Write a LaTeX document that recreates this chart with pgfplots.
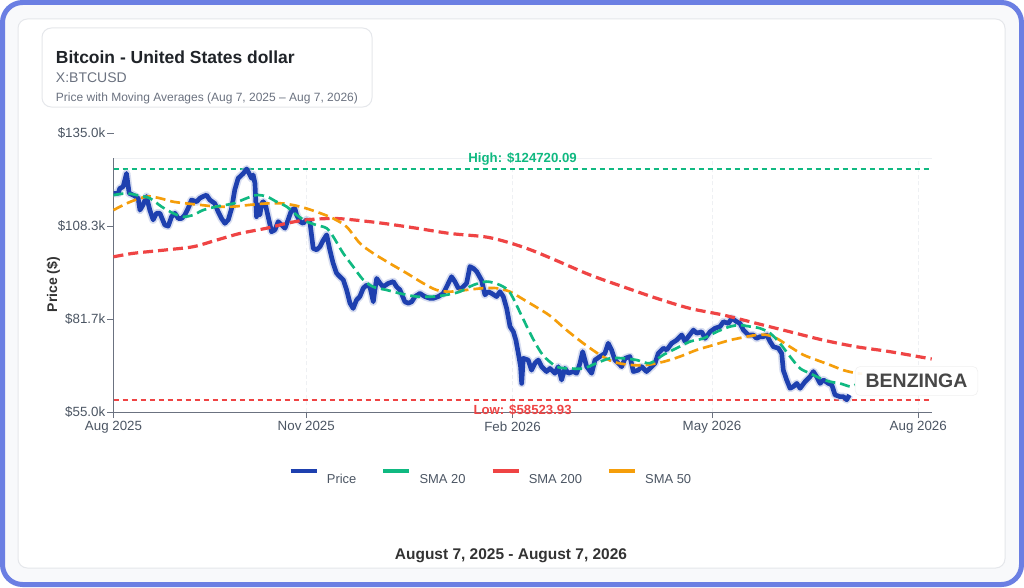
\documentclass[border=0pt]{standalone}
\usepackage{pgfplots}
\pgfplotsset{compat=1.18}
\usepackage{pgfplotstable}
\usepackage{fontspec}
\setmainfont{Liberation Sans}
\definecolor{priceblue}{HTML}{1E40AF}
\definecolor{smagreen}{HTML}{10B981}
\definecolor{smared}{HTML}{EF4444}
\definecolor{smaorange}{HTML}{F59E0B}
\definecolor{frameblue}{HTML}{6B7FE3}
\definecolor{bgsoft}{HTML}{F8F9FB}
\definecolor{cardgray}{HTML}{E5E7EB}
\definecolor{titlecol}{HTML}{1F2328}
\definecolor{subcol}{HTML}{6B7280}
\definecolor{tickcol}{HTML}{4B5563}
\definecolor{axisgray}{HTML}{6B7280}
\definecolor{gridcol}{HTML}{EEF0F3}
\definecolor{darktext}{HTML}{333333}

\pgfplotstableread{
x y
6 117.7
8.1 117.7
8.8 119.1
10.3 119.6
11.8 123.4
13.0 117.7
14.8 117.2
17.0 116.3
17.8 112.9
19.2 114.4
20.7 116.8
22.2 112.9
23.7 110.1
25.2 112.0
26.7 112.0
28.9 108.6
30.4 108.3
31.9 111.0
33.4 112.0
34.9 110.5
36.4 110.5
37.8 111.5
39.3 113.4
40.8 115.8
43.1 115.3
44.5 116.3
46.0 116.8
47.5 117.2
49.0 115.8
51.2 114.8
52.7 112.4
54.2 110.5
55.7 109.1
57.2 110.1
58.7 113.4
60.1 118.7
61.6 122.0
63.9 123.4
65.4 124.7
66.5 123.4
67.6 122.0
68.3 123.0
69.1 120.6
69.8 111.0
70.6 114.4
71.3 111.5
72.1 114.8
72.8 115.3
73.8 114.4
75.0 111.0
76.5 106.7
78.0 107.2
79.5 109.6
81.0 108.6
82.5 107.7
83.9 110.1
85.4 112.9
86.9 113.4
87.7 111.5
89.2 109.6
90.6 109.1
92.1 110.1
93.6 109.6
95.1 101.9
96.6 101.5
98.1 102.4
99.6 104.3
101.1 105.8
102.5 101.5
104.0 97.6
105.5 94.8
107.0 93.8
108.5 92.9
110.0 90.0
111.5 86.2
112.9 84.7
114.4 87.1
115.9 88.1
117.4 90.5
118.9 91.4
120.4 90.9
121.9 86.6
122.6 90.0
123.4 93.3
124.9 91.9
126.3 90.9
128.6 91.9
130.8 92.4
132.3 90.9
133.8 90.0
136.0 86.6
137.5 86.2
139.0 86.6
140.5 88.1
142.7 89.0
144.9 88.1
147.2 87.6
148.7 87.6
150.9 88.1
153.1 89.0
154.6 90.9
156.8 93.8
158.3 92.4
159.8 90.5
161.3 90.5
163.5 91.9
165.0 96.7
166.5 96.2
168.0 95.3
170.2 92.8
171.7 88.6
173.2 89.5
174.7 89.0
176.9 88.1
178.4 89.5
179.9 88.1
181.4 84.7
182.9 79.5
184.4 78.0
185.5 75.6
186.6 71.8
187.6 68.0
188.1 63.2
188.8 70.4
191.0 69.9
192.5 67.0
194.0 69.0
195.5 69.9
197.0 68.0
199.2 66.6
200.7 67.5
202.9 66.1
204.4 68.0
205.9 64.2
207.4 67.5
208.9 66.1
211.1 66.6
212.6 66.1
214.1 69.0
215.3 72.3
217.1 68.0
219.3 66.1
220.8 69.9
223.0 70.9
225.2 71.8
226.7 74.7
228.2 72.8
229.7 69.9
231.2 69.0
232.7 68.0
234.2 70.4
236.4 70.9
237.9 66.6
240.1 67.0
241.6 68.0
243.8 66.6
246.1 68.0
247.6 69.0
249.0 71.8
251.3 73.3
252.8 72.8
255.0 74.7
257.2 75.6
259.5 77.1
261.0 75.2
262.4 76.6
264.7 78.5
266.2 77.6
268.4 78.0
269.9 76.1
272.1 78.0
274.3 79.0
276.6 79.5
278.1 80.9
280.3 80.4
281.8 81.9
284.0 80.9
285.5 80.4
287.0 78.5
289.2 77.1
291.4 77.1
292.9 76.1
294.4 76.6
295.9 76.6
297.4 77.1
298.9 75.2
300.4 73.7
302.6 73.3
304.1 71.8
304.8 67.0
306.3 64.2
307.8 61.8
309.3 62.3
310.8 63.2
312.3 61.8
314.5 63.7
316.7 65.1
318.2 66.6
319.7 65.1
321.2 63.2
322.7 64.2
324.9 63.2
326.4 62.8
327.9 59.9
330.1 59.4
331.6 59.4
333.1 58.5
334.3 59.9
}\pricetab

\pgfplotstableread{
x y
6 117.2
11.8 117.7
16.3 117.2
22.2 116.3
27.4 113.9
32.6 112.0
37.1 111.0
41.6 111.5
46.0 112.9
52.0 113.9
59.4 114.8
65.4 116.3
69.8 117.2
74.3 116.8
78.7 115.3
83.2 113.9
87.7 111.5
92.1 109.6
96.6 108.6
101.1 107.7
104.0 105.3
108.5 100.5
112.9 96.7
117.4 92.9
121.9 90.9
127.8 90.0
133.8 89.0
141.2 88.1
148.7 88.1
154.6 88.6
160.5 89.5
166.5 91.4
172.5 92.4
178.4 91.4
182.9 89.2
188.8 81.6
193.3 75.8
197.7 71.2
203.7 68.0
209.6 67.5
215.6 67.5
221.5 69.0
227.5 70.4
233.4 70.4
239.4 69.9
245.3 69.0
251.3 71.4
257.2 73.3
263.2 75.2
269.1 76.1
275.1 78.0
281.0 79.5
285.5 79.9
290.0 79.5
294.4 79.0
298.9 77.6
303.3 74.7
307.8 70.9
312.3 67.5
316.7 66.1
321.2 64.7
325.6 63.7
330.1 63.2
334.6 62.3
337.0 62.8
}\smaXXtab

\pgfplotstableread{
x y
6 112.9
11.8 114.8
17.8 116.3
22.2 116.8
26.7 116.3
32.6 115.3
38.6 114.8
44.5 114.4
52.0 113.9
59.4 113.9
66.9 114.4
74.3 114.8
81.7 114.8
89.2 113.9
96.6 112.4
104.0 110.5
110.0 108.1
115.9 103.4
121.9 100.5
129.3 97.6
136.8 94.8
144.2 91.9
150.1 90.0
156.1 89.5
163.5 90.0
170.9 90.5
176.9 90.5
182.9 89.5
188.8 87.3
194.8 85.0
200.7 82.6
208.1 78.5
215.6 74.7
223.0 71.4
229.0 69.4
236.4 68.5
243.8 68.5
251.3 69.4
258.7 70.9
266.2 72.8
273.6 74.2
281.0 75.6
288.5 76.6
292.9 77.1
297.4 77.1
301.9 76.1
307.8 73.7
313.7 71.4
319.7 69.9
325.6 68.5
331.6 67.0
337.5 66.1
340.0 66.0
}\smaLtab

\pgfplotstableread{
x y
6 99.5
14.8 100.5
29.7 101.5
41.6 102.4
52.0 104.3
62.4 106.2
74.3 107.7
83.2 109.1
92.1 110.1
104.0 110.5
112.9 110.1
126.3 109.1
141.2 107.7
156.1 106.2
171.0 105.3
178.4 104.3
185.8 102.9
193.3 101.2
203.7 98.4
218.6 94.3
233.4 90.9
248.3 87.6
263.2 84.7
278.1 82.8
292.9 80.4
307.8 78.0
322.7 75.6
337.5 73.7
352.4 72.3
371.0 70.2
}\smaCCtab

\begin{document}
\begin{tikzpicture}[x=0.75pt,y=0.75pt]
\useasboundingbox (0,0) rectangle (1024,587);
\fill[white] (0,0) rectangle (1024,587);
\draw[line width=3.75pt, draw=frameblue, fill=bgsoft, rounded corners=15pt] (2.5,2.5) rectangle (1021.5,584.5);
\draw[cardgray, fill=white, line width=0.75pt, rounded corners=7pt] (18,19) rectangle (1005,568);
% title box
\draw[cardgray, fill=white, line width=0.75pt, rounded corners=7pt] (42,587-28) rectangle (372,587-107);
\node[anchor=base west, inner sep=0, font=\fontsize{13.1}{15}\selectfont\bfseries, text=titlecol] at (55.7,587-63.3) {Bitcoin - United States dollar};
\node[anchor=base west, inner sep=0, font=\fontsize{10.5}{12}\selectfont, text=subcol] at (55.7,587-82.7) {X:BTCUSD};
\node[anchor=base west, inner sep=0, font=\fontsize{9}{11}\selectfont, text=subcol] at (55.7,587-101) {Price with Moving Averages (Aug 7, 2025 -- Aug 7, 2026)};
% y label
\node[rotate=90, font=\fontsize{10.5}{12}\selectfont\bfseries, text=darktext] at (53.3,587-284.5) {Price (\$)};
% caption
\node[font=\fontsize{11.6}{14}\selectfont\bfseries, text=darktext] at (511,587-555.5) {August 7, 2025 - August 7, 2026};
\coordinate (axorigin) at (113.5,175);

\begin{axis}[
  at={(axorigin)}, anchor=south west,
  scale only axis, width=613.65pt, height=209.25pt,
  xmin=6, xmax=371, ymin=55, ymax=135,
  axis x line=bottom, axis y line=left,
  x axis line style={-, draw=axisgray, line width=0.75pt},
  y axis line style={-, draw=none},
  xtick={6,92,184,273,365},
  xticklabels={Aug 2025,Nov 2025,Feb 2026,May 2026,Aug 2026},
  ytick={55,81.6667,108.3333,135},
  yticklabels={\$55.0k,\$81.7k,\$108.3k,\$135.0k},
  tick align=outside, major tick length=4.5pt,
  tick style={draw=axisgray, line width=0.75pt},
  ticklabel style={font=\fontsize{10}{12}\selectfont, text=tickcol},
  yticklabel style={inner sep=1.5pt},
  xticklabel style={inner sep=2.5pt},
  clip=false,
  legend style={at={(0.2142,-0.2401)}, anchor=west, draw=none, fill=none,
    inner sep=0pt, font=\fontsize{9.7}{12}\selectfont, text=tickcol,
    /tikz/every even column/.append style={column sep=17pt}},
  legend columns=4,
  legend image code/.code={\draw[#1, solid, line width=2.4pt] (0pt,6.95pt) -- (19.5pt,6.95pt); \path (25pt,0pt);},
]
% faint grid
\draw[gridcol, line width=0.75pt] (axis cs:6,127.8) -- (axis cs:371,127.8);
\draw[gridcol, line width=0.75pt, dash pattern=on 3pt off 2pt] (axis cs:92,55) -- (axis cs:92,127.8);
\draw[gridcol, line width=0.75pt, dash pattern=on 3pt off 2pt] (axis cs:184,55) -- (axis cs:184,127.8);
\draw[gridcol, line width=0.75pt, dash pattern=on 3pt off 2pt] (axis cs:273,55) -- (axis cs:273,127.8);
\draw[gridcol, line width=0.75pt, dash pattern=on 3pt off 2pt] (axis cs:365,55) -- (axis cs:365,127.8);
\draw[axisgray, line width=0.75pt] (axis cs:6,55) -- (axis cs:6,127.8);

\addplot[forget plot, smagreen, line width=1.5pt, dash pattern=on 3.75pt off 3pt] coordinates {(6,124.72) (371,124.72)};
\addplot[forget plot, smared, line width=1.5pt, dash pattern=on 3.75pt off 3pt] coordinates {(6,58.52) (371,58.52)};

\addplot[forget plot, priceblue!35, opacity=0.5, line width=6pt, line join=round] table[x=x,y=y] {\pricetab};
\addplot[forget plot, priceblue, line width=3.5pt, line join=round] table[x=x,y=y] {\pricetab};
\addplot[forget plot, smared, line width=2.4pt, dash pattern=on 7.5pt off 3.75pt, smooth] table[x=x,y=y] {\smaCCtab};
\addplot[forget plot, smaorange, line width=2pt, dash pattern=on 7.5pt off 3.75pt, smooth] table[x=x,y=y] {\smaLtab};
\addplot[forget plot, smagreen, line width=2pt, dash pattern=on 7.5pt off 3.75pt, smooth] table[x=x,y=y] {\smaXXtab};

\addlegendimage{priceblue}\addlegendentry{Price}
\addlegendimage{smagreen}\addlegendentry{SMA 20}
\addlegendimage{smared}\addlegendentry{SMA 200}
\addlegendimage{smaorange}\addlegendentry{SMA 50}

\node[font=\fontsize{9.9}{12}\selectfont\bfseries, text=smagreen] at (axis cs:188.5,127.6) {High: \$124720.09};
\node[font=\fontsize{9.9}{12}\selectfont\bfseries, text=smared] at (axis cs:188.5,55.6) {Low: \$58523.93};
\end{axis}

% watermark
\node[fill=white, fill opacity=0.92, text opacity=1, draw=gray!12, rounded corners=4pt,
  minimum width=92pt, minimum height=22pt, inner sep=0pt,
  font=\fontsize{14.6}{16}\selectfont\bfseries, text=darktext!90] at (916.5,587-381) {BENZINGA};
\end{tikzpicture}
\end{document}
